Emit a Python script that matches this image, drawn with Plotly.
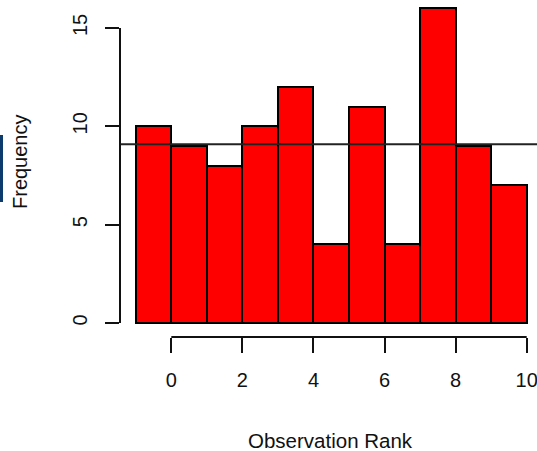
import plotly.graph_objects as go

# Histogram of observation ranks: unit-width bins from -1 to 10
bin_left = [-1, 0, 1, 2, 3, 4, 5, 6, 7, 8, 9]
counts = [10, 9, 8, 10, 12, 4, 11, 4, 16, 9, 7]
x_ticks = [0, 2, 4, 6, 8, 10]
y_ticks = [0, 5, 10, 15]

mean_count = sum(counts) / len(counts)
centers = [b + 0.5 for b in bin_left]

FONT = "Liberation Sans, Arial, Helvetica, sans-serif"
INK = "#111111"

fig = go.Figure()
fig.add_trace(go.Bar(
    x=centers,
    y=counts,
    width=[1] * len(counts),
    marker=dict(color="#ff0000", line=dict(color="#000000", width=2)),
    hoverinfo="x+y",
    showlegend=False,
))

shapes = [
    # expected (mean) frequency across the whole plotting region
    dict(type="line", xref="paper", yref="y", x0=0, x1=1, y0=mean_count, y1=mean_count,
         line=dict(color="#222222", width=2), layer="above"),
    # R-style axis lines spanning first to last tick only
    dict(type="line", xref="x", yref="paper", x0=x_ticks[0], x1=x_ticks[-1], y0=0, y1=0,
         line=dict(color=INK, width=2)),
    dict(type="line", xref="paper", yref="y", x0=0, x1=0, y0=y_ticks[0], y1=y_ticks[-1],
         line=dict(color=INK, width=2)),
    # navy strip on the left border
    dict(type="rect", xref="paper", yref="paper",
         x0=-120 / 417, x1=-117 / 417, y0=1 - 202 / 337, y1=1 - 135 / 337,
         fillcolor="#0d3b6e", line=dict(width=0)),
]

annotations = [
    dict(text="Observation Rank", xref="paper", yref="paper", x=(330 - 120) / 417,
         y=-(440 - 337) / 337, showarrow=False, xanchor="center", yanchor="middle",
         font=dict(family=FONT, size=20.5, color=INK)),
    dict(text="Frequency", xref="paper", yref="paper", x=-(120 - 20) / 417,
         y=1 - 162 / 337, showarrow=False, textangle=-90, xanchor="center", yanchor="middle",
         font=dict(family=FONT, size=20, color=INK)),
]

fig.update_layout(
    width=537,
    height=451,
    margin=dict(l=120, r=0, t=0, b=114),
    paper_bgcolor="white",
    plot_bgcolor="white",
    bargap=0,
    shapes=shapes,
    annotations=annotations,
    xaxis=dict(
        range=[-1.444, 10.29],
        tickvals=x_ticks,
        ticks="outside",
        ticklen=15,
        tickwidth=2,
        tickcolor=INK,
        ticklabelstandoff=10,
        ticklabeloverflow="allow",
        tickfont=dict(family=FONT, size=20, color=INK),
        showgrid=False,
        zeroline=False,
        showline=False,
    ),
    yaxis=dict(
        range=[-0.712, 16.42],
        tickvals=y_ticks,
        ticks="outside",
        ticklen=14,
        tickwidth=2,
        tickcolor=INK,
        tickangle=-90,
        ticklabelstandoff=10,
        ticklabeloverflow="allow",
        tickfont=dict(family=FONT, size=20, color=INK),
        showgrid=False,
        zeroline=False,
        showline=False,
    ),
)

fig.write_html("out.html")
